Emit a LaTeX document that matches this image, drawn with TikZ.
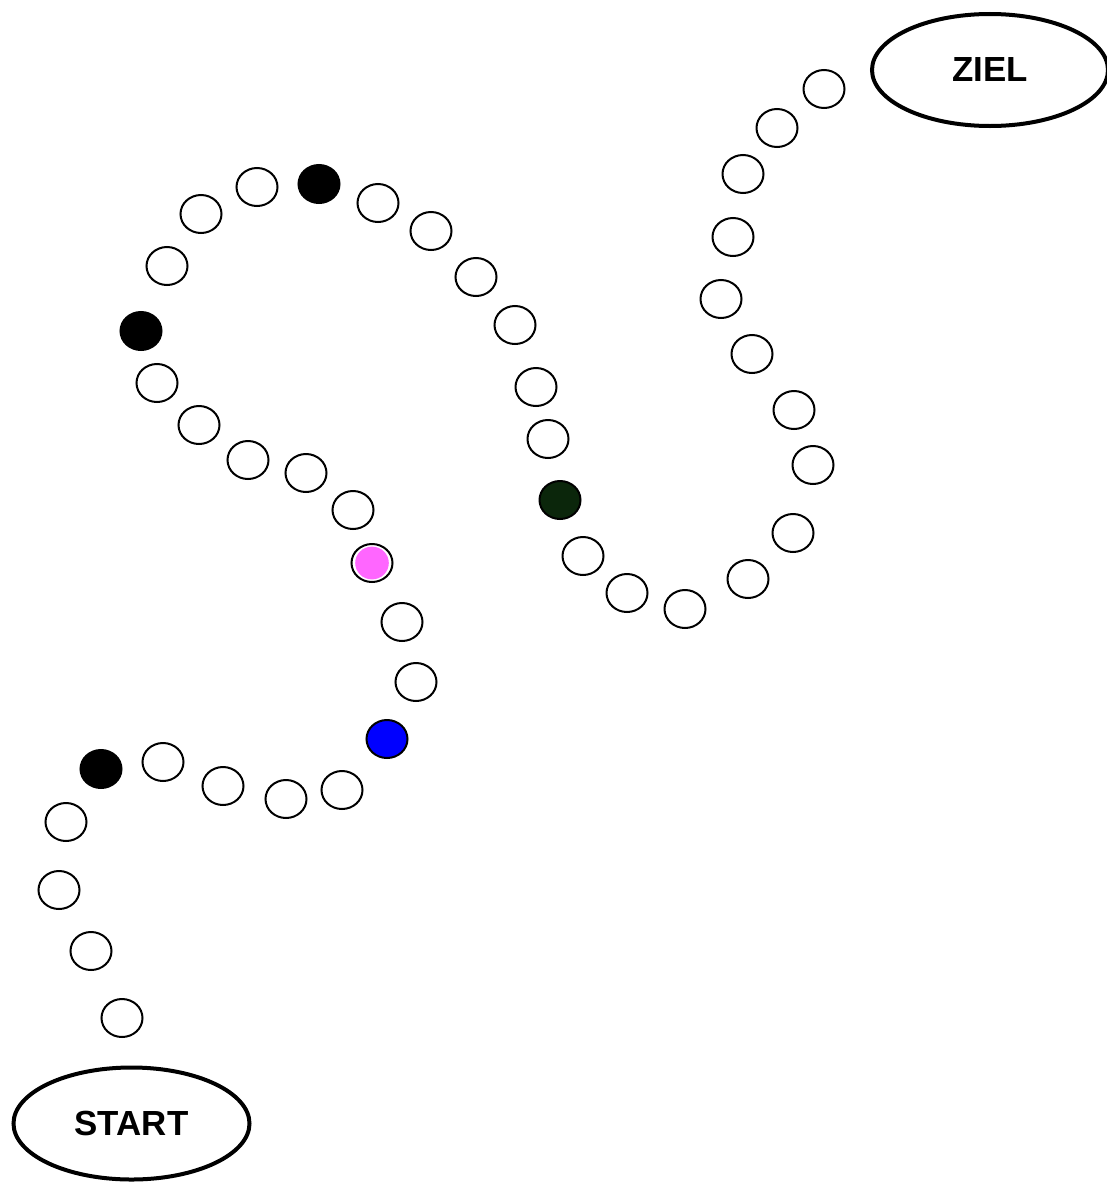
\documentclass[tikz,border=0pt]{standalone}
\usepackage{fontspec}
\setmainfont{Liberation Sans}
\usetikzlibrary{shapes.geometric}
\definecolor{rosafarbe}{HTML}{FF66FF}
\definecolor{dunkelgruen}{HTML}{0B260B}
\tikzset{feld/.style={draw,ellipse,fill=white,line width=0.5mm,inner sep=0pt,
 minimum width=10.25mm,minimum height=9.5mm},
 schwarz/.style={feld,fill=black},blau/.style={feld,fill=blue},
 dunkel/.style={feld,fill=dunkelgruen},
 rosa/.style={feld,path picture={\fill[rosafarbe] (path picture bounding box.center) ellipse (4.2mm and 4.1mm);}},
 ende/.style={draw,ellipse,fill=white,line width=1mm,inner sep=0pt,
 minimum width=59mm,minimum height=28mm,font=\bfseries\fontsize{24.8}{28}\selectfont}}

\begin{document}
\begin{tikzpicture}[x=0.25mm,y=-0.25mm]
\useasboundingbox (0,0) rectangle (1107,1182);
\node[ende] (start) at (131.5,1123.5) {START};
\node[ende] (ziel) at (990,70) {ZIEL};
\node[feld] (f1) at (122,1018) {};
\node[feld] (f2) at (91,951) {};
\node[feld] (f3) at (59,890) {};
\node[feld] (f4) at (66,822) {};
\node[schwarz] (f5) at (101,769) {};
\node[feld] (f6) at (163,762) {};
\node[feld] (f7) at (223,786) {};
\node[feld] (f8) at (286,799) {};
\node[feld] (f9) at (342,790) {};
\node[blau] (f10) at (387,739) {};
\node[feld] (f11) at (416,682) {};
\node[feld] (f12) at (402,622) {};
\node[rosa] (f13) at (372,563) {};
\node[feld] (f14) at (353,510) {};
\node[feld] (f15) at (306,473) {};
\node[feld] (f16) at (248,460) {};
\node[feld] (f17) at (199,425) {};
\node[feld] (f18) at (157,383) {};
\node[schwarz] (f19) at (141,331) {};
\node[feld] (f20) at (167,266) {};
\node[feld] (f21) at (201,214) {};
\node[feld] (f22) at (257,187) {};
\node[schwarz] (f23) at (319,184) {};
\node[feld] (f24) at (378,203) {};
\node[feld] (f25) at (431,231) {};
\node[feld] (f26) at (476,277) {};
\node[feld] (f27) at (515,325) {};
\node[feld] (f28) at (536,387) {};
\node[feld] (f29) at (548,439) {};
\node[dunkel] (f30) at (560,500) {};
\node[feld] (f31) at (583,556) {};
\node[feld] (f32) at (627,593) {};
\node[feld] (f33) at (685,609) {};
\node[feld] (f34) at (748,579) {};
\node[feld] (f35) at (793,533) {};
\node[feld] (f36) at (813,465) {};
\node[feld] (f37) at (794,410) {};
\node[feld] (f38) at (752,354) {};
\node[feld] (f39) at (721,299) {};
\node[feld] (f40) at (733,237) {};
\node[feld] (f41) at (743,174) {};
\node[feld] (f42) at (777,128) {};
\node[feld] (f43) at (824,89) {};
\end{tikzpicture}
\end{document}
